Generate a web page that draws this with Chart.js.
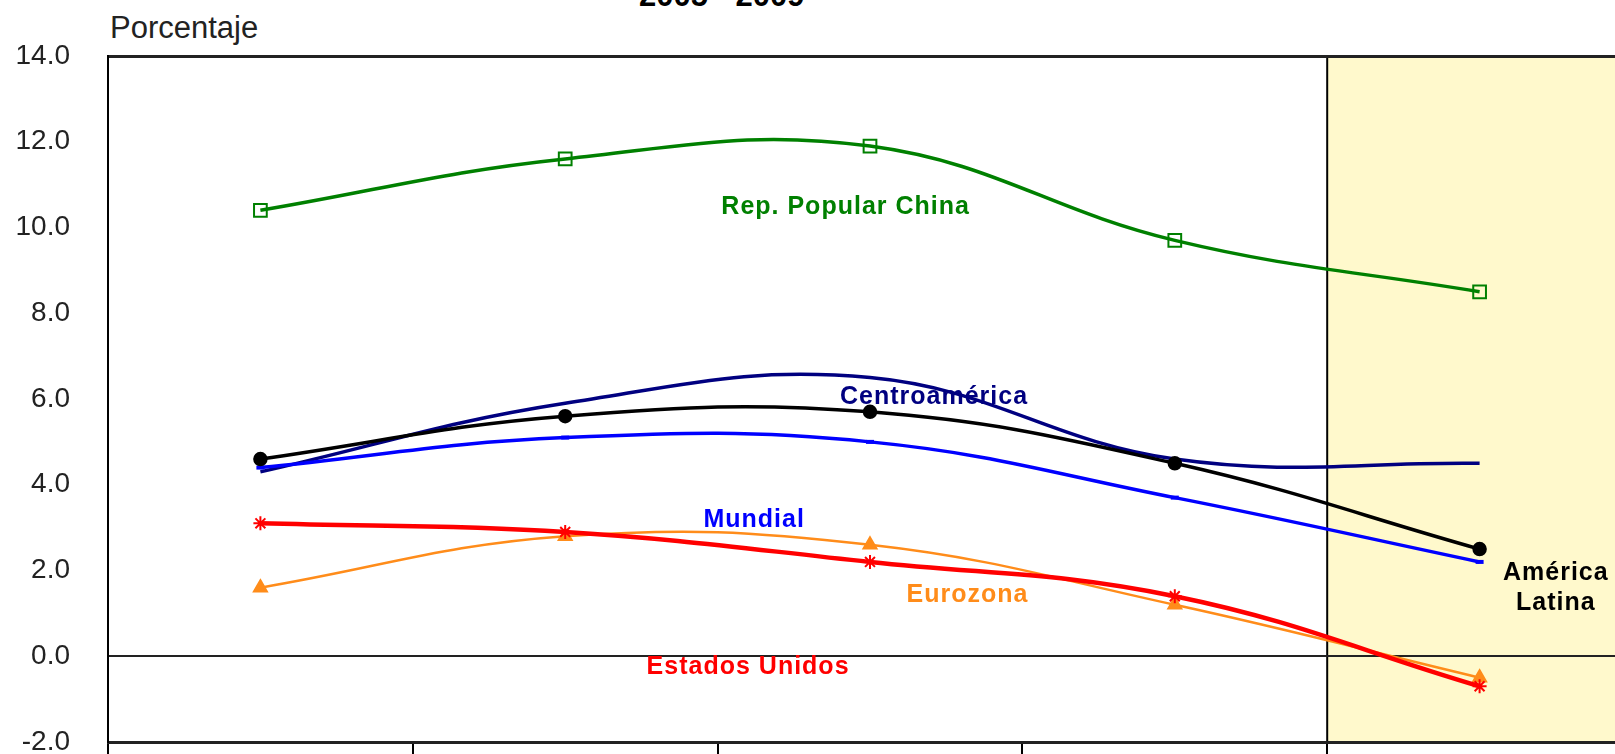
<!DOCTYPE html>
<html>
<head>
<meta charset="utf-8">
<script src="https://cdn.jsdelivr.net/npm/chart.js@4"></script>
<style>
  body { margin: 0; background: #fff; overflow: hidden; width: 1615px; height: 754px; position: relative; }
  #wrap { position: absolute; left: 0; top: 0; width: 1652px; height: 802px; }
  .txt { position: absolute; font-family: 'Liberation Sans', Arial, sans-serif; line-height: 1; white-space: nowrap; }
  #title { left: 639px; top: -20px; font-size: 31px; font-weight: bold; color: #000; }
  #unit { left: 110px; top: 12px; font-size: 31px; color: #222; }
</style>
</head>
<body>
<div id="title" class="txt">2005 - 2009</div>
<div id="unit" class="txt">Porcentaje</div>
<div id="wrap"><canvas id="growth-chart"></canvas></div>
<script>
const years = ['2005', '2006', '2007', '2008', '2009'];
const china = [10.4, 11.6, 11.9, 9.7, 8.5];
const americaLatina = [4.6, 5.6, 5.7, 4.5, 2.5];
const mundial = [4.4, 5.1, 5.0, 3.7, 2.2];
const centroamerica = [4.3, 5.9, 6.5, 4.6, 4.5];
const estadosUnidos = [3.1, 2.9, 2.2, 1.4, -0.7];
const eurozona = [1.6, 2.8, 2.6, 1.2, -0.5];

// text labels placed in data units (category index, value)
const seriesLabels = [
    { text: 'Rep. Popular China', x: 1.92, y: 10.48, color: '#008000' },
    { text: 'Centroamérica', x: 2.21, y: 6.04, color: '#000080' },
    { text: 'Mundial', x: 1.62, y: 3.17, color: '#0000FF' },
    { text: 'Eurozona', x: 2.32, y: 1.42, color: '#FF8C1A' },
    { text: 'Estados Unidos', x: 1.60, y: -0.26, color: '#FF0000' },
    { text: 'América', x: 4.25, y: 1.94, color: '#000000' },
    { text: 'Latina', x: 4.25, y: 1.24, color: '#000000' },
];

const FONT = "'Liberation Sans', Arial, sans-serif";

const forecastBand = {
    id: 'forecastBand',
    beforeDraw(chart) {
        const { ctx, chartArea, scales } = chart;
        const x = scales.x;
        const edge = (x.getPixelForValue(3) + x.getPixelForValue(4)) / 2;
        ctx.save();
        ctx.fillStyle = '#FFF9CC';
        ctx.fillRect(edge, chartArea.top, chartArea.right - edge, chartArea.bottom - chartArea.top);
        ctx.strokeStyle = '#000';
        ctx.lineWidth = 2;
        ctx.beginPath();
        ctx.moveTo(edge, chartArea.top);
        ctx.lineTo(edge, chartArea.bottom);
        ctx.stroke();
        ctx.restore();
    }
};

const labelPlugin = {
    id: 'seriesLabels',
    afterDatasetsDraw(chart) {
        const { ctx, scales } = chart;
        ctx.save();
        ctx.font = 'bold 25px ' + FONT;
        ctx.textAlign = 'center';
        ctx.textBaseline = 'middle';
        if ('letterSpacing' in ctx) ctx.letterSpacing = '1px';
        seriesLabels.forEach(l => {
            ctx.fillStyle = l.color;
            ctx.fillText(l.text, scales.x.getPixelForValue(l.x), scales.y.getPixelForValue(l.y));
        });
        ctx.restore();
    }
};

function line(label, data, color, width, extra) {
    return Object.assign({
        label,
        data,
        borderColor: color,
        backgroundColor: color,
        borderWidth: width,
        tension: 0.4,
        pointRadius: 0,
    }, extra);
}

new Chart(document.getElementById('growth-chart'), {
    type: 'line',
    data: {
        labels: years,
        datasets: [
            line('Estados Unidos', estadosUnidos, '#FF0000', 4.5, { pointStyle: 'star', pointRadius: 7, pointBorderWidth: 2 }),
            line('América Latina', americaLatina, '#000000', 3.5, { pointStyle: 'circle', pointRadius: 5.5 }),
            line('Eurozona', eurozona, '#FF8C1A', 2.5, { pointStyle: 'triangle', pointRadius: 7 }),
            line('Mundial', mundial, '#0000FF', 3.5, { pointStyle: 'line', pointRadius: 4, pointBorderWidth: 4 }),
            line('Centroamérica', centroamerica, '#000080', 3.5),
            line('Rep. Popular China', china, '#008000', 3.5, { pointStyle: 'rect', pointRadius: 9, pointBorderWidth: 2, pointBackgroundColor: 'rgba(0,0,0,0)' }),
        ]
    },
    options: {
        responsive: true,
        maintainAspectRatio: false,
        animation: false,
        layout: { padding: { left: 0, top: 56, right: 20, bottom: 0 } },
        scales: {
            x: {
                offset: true,
                afterFit: s => { s.height = 60; },
                border: { color: '#222', width: 3 },
                grid: { offset: true, drawOnChartArea: false, drawTicks: true, tickLength: 12, color: '#000', lineWidth: 2 },
                ticks: { color: '#000', font: { family: FONT, size: 28 } }
            },
            y: {
                min: -2,
                max: 14,
                afterFit: s => { s.width = 108; },
                border: { color: '#000', width: 2 },
                grid: {
                    drawTicks: false,
                    color: c => (c.tick.value === 0 || c.tick.value === 14) ? '#222' : 'rgba(0,0,0,0)',
                    lineWidth: c => c.tick.value === 14 ? 3 : 2,
                },
                ticks: {
                    stepSize: 2,
                    padding: 38,
                    color: '#222',
                    font: { family: FONT, size: 28 },
                    callback: v => Number(v).toFixed(1)
                }
            }
        },
        plugins: {
            legend: { display: false },
            tooltip: { enabled: false }
        }
    },
    plugins: [forecastBand, labelPlugin]
});
</script>
</body>
</html>
